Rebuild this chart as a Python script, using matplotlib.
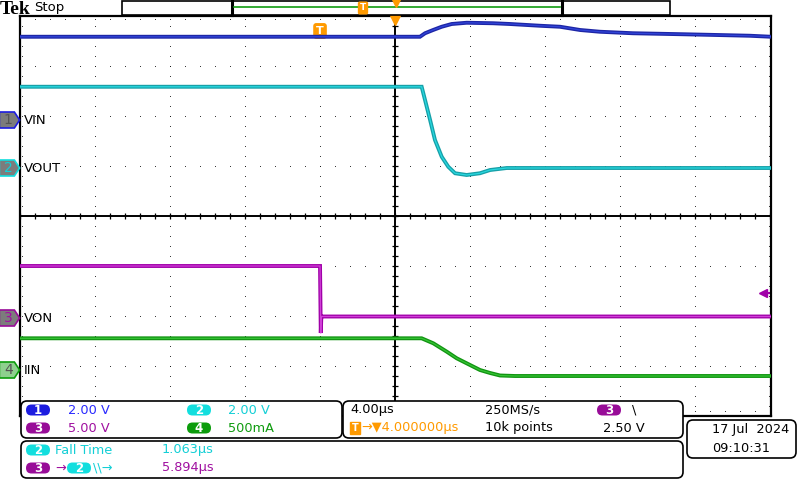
"""
Tek scope capture redraw: VIN / VOUT / VON / IIN turn-off transient.
4 us/div, trigger on ch3 falling edge, horizontal position 4 us.
"""
import numpy as np
import matplotlib
matplotlib.use("Agg")
import matplotlib.pyplot as plt
from matplotlib.patches import FancyBboxPatch, Polygon, Rectangle

# ---- waveform samples (time in us, trigger at t = 0) ----
VIN_T = [-16, 5.33, 5.6, 6.03, 6.49, 7.02, 7.82, 9.23, 10.13, 11.73, 12.8, 13.87,
         14.93, 16.69, 19.36, 21.17, 22.93, 24.05]
VIN_V = [3.33, 3.33, 3.47, 3.60, 3.73, 3.84, 3.89, 3.87, 3.84, 3.77, 3.73, 3.60,
         3.53, 3.47, 3.43, 3.40, 3.37, 3.33]

VOUT_T = [-16, 5.42, 5.6, 5.87, 6.13, 6.49, 6.84, 7.2, 7.82, 8.53, 9.07, 9.96, 24.05]
VOUT_V = [3.25, 3.25, 2.72, 1.92, 1.12, 0.45, 0.05, -0.21, -0.28, -0.21, -0.08, 0.0, 0.0]

VON_T = [-16, 0.0, 0.04, 0.07, 0.12, 24.05]
VON_V = [5.2, 5.2, -1.5, 0.15, 0.15, 0.15]

IIN_T = [-16, 5.42, 6.04, 6.76, 7.29, 8.0, 8.53, 9.07, 9.6, 10.4, 24.05]
IIN_A = [0.317, 0.317, 0.267, 0.183, 0.117, 0.05, 0.0, -0.03, -0.055, -0.06, -0.06]

# channel settings: name, volts(or amps)/div, ground position (div)
CH_NAMES = ["VIN", "VOUT", "VON", "IIN"]
CH_SCALE = [2.0, 2.0, 5.0, 0.5]
CH_OFFSET = [1.92, 0.96, -2.04, -3.08]
TRIG_LEVEL = 2.50  # V on ch3

# readouts
SCALE_TXT = ["2.00 V", "2.00 V", "5.00 V", "500mA"]
TIMEBASE = "4.00µs"
SAMPLE_RATE = "250MS/s"
RECORD = "10k points"
HPOS = "→▼4.000000µs"
TRIG_TXT = "2.50 V"
FALL_TIME = "1.063µs"
DELAY = "5.894µs"
DATE, TIME = "17 Jul  2024", "09:10:31"

TRACE = [("#1e26a6", "#3044d8"), ("#17a0a8", "#28d8e0"),
         ("#a000a8", "#d040d8"), ("#129412", "#34c434")]
BADGE = ["#1c1ce0", "#12dede", "#980c98", "#0c9c0c"]
TXT = ["#2a2aff", "#14cfd6", "#a010a0", "#109c10"]
ORANGE = "#ff9a00"

fig = plt.figure(figsize=(8, 4.8), dpi=100, facecolor="white")
ax = fig.add_axes([20 / 800, 64 / 480, 751 / 800, 400 / 480])
ax.set_xlim(-16, 24.05)
ax.set_ylim(-4, 4)
ax.set_xticks([]); ax.set_yticks([])
for s in ax.spines.values():
    s.set_linewidth(1.6); s.set_color("black")

# graticule dots
dot = dict(ls="none", marker="s", ms=0.55, mew=0, color="#111111")
xs = np.arange(-16, 24.05, 0.8)
ys = np.arange(-4, 4.01, 0.2)
for gx in range(-12, 24, 4):
    if gx == 4:
        continue
    ax.plot(np.full_like(ys, gx), ys, **dot)
for gy in [-3, -2, -1, 1, 2, 3]:
    ax.plot(xs, np.full_like(xs, gy), **dot)
ax.plot(np.full_like(ys, -15.89), ys, **dot)
ax.plot(np.full_like(ys, 23.94), ys, **dot)
ax.plot(xs, np.full_like(xs, 3.95), **dot)
ax.plot(xs, np.full_like(xs, -3.9), **dot)
ax.axvline(4, color="k", lw=1.4)
ax.axhline(0, color="k", lw=1.4)
ax.plot(np.full_like(ys, 4), ys, ls="none", marker="_", ms=4.5, mew=0.9, color="k")
ax.plot(xs, np.zeros_like(xs), ls="none", marker="|", ms=4.5, mew=0.9, color="k")

# traces
series = [(VIN_T, VIN_V), (VOUT_T, VOUT_V), (VON_T, VON_V), (IIN_T, IIN_A)]
for i, (t, v) in enumerate(series):
    y = np.asarray(v) / CH_SCALE[i] + CH_OFFSET[i]
    ax.plot(t, y, color=TRACE[i][0], lw=2.8, solid_joinstyle="miter", zorder=4)
    ax.plot(t, y, color=TRACE[i][1], lw=0.9, zorder=5)

# channel ground markers + labels
for i, name in enumerate(CH_NAMES):
    off = CH_OFFSET[i]
    fill = "#8ed08e" if i == 3 else "#7c7c7c"
    pts = [(-17.1, off - 0.16), (-16.3, off - 0.16), (-16.02, off),
           (-16.3, off + 0.16), (-17.1, off + 0.16)]
    ax.add_patch(Polygon(pts, closed=True, fc=fill, ec=BADGE[i], lw=1.2,
                         clip_on=False, zorder=6))
    ax.text(-16.62, off, str(i + 1), ha="center", va="center", fontsize=10,
            color="#555555" if i in (0, 3) else TXT[i], clip_on=False, zorder=7)
    ax.text(-15.8, off, name, ha="left", va="center", fontsize=9.5, color="black")

# trigger position / level markers
ax.text(0, 3.7, "T", ha="center", va="center", fontsize=8, fontweight="bold",
        color="white", bbox=dict(boxstyle="round,pad=0.2", fc=ORANGE, ec=ORANGE))
ax.plot([4], [3.93], marker="v", ms=7, color=ORANGE, clip_on=False, zorder=6)
lvl = TRIG_LEVEL / CH_SCALE[2] + CH_OFFSET[2]
ax.plot([23.6, 24.0], [lvl, lvl], color=TRACE[2][0], lw=1.5)
ax.plot([23.6], [lvl], marker="<", ms=6, color=TRACE[2][0])

# ---- overlay in pixel coordinates for the readout panels ----
ov = fig.add_axes([0, 0, 1, 1])
ov.set_xlim(0, 800); ov.set_ylim(480, 0); ov.axis("off")


def box(x0, y0, x1, y1):
    ov.add_patch(FancyBboxPatch((x0, y0), x1 - x0, y1 - y0,
                                boxstyle="round,pad=0,rounding_size=6",
                                fc="white", ec="black", lw=1.2))


def badge(xc, yc, n, color):
    ov.add_patch(FancyBboxPatch((xc - 12, yc - 5.5), 24, 11,
                                boxstyle="round,pad=0,rounding_size=5.5",
                                fc=color, ec="none"))
    ov.text(xc, yc, str(n), ha="center", va="center", fontsize=8.5,
            color="white", fontweight="bold")


def label(x, y, s, color="black", size=9.3):
    ov.text(x, y, s, ha="left", va="center", fontsize=size, color=color)


# header
ov.text(0, 13.8, "Tek", ha="left", va="baseline", fontsize=14, fontweight="bold",
        family="Liberation Serif")
label(34, 8, "Stop", size=9.5)
ov.add_patch(Rectangle((122, 1), 548, 14, fc="white", ec="black", lw=1.2))
ov.plot([232, 232], [1, 15], color="black", lw=2.2)
ov.plot([562, 562], [1, 15], color="black", lw=2.2)
ov.plot([234, 560], [7, 7], color="#109c10", lw=1.2)
ov.text(363, 8, "T", ha="center", va="center", fontsize=6.5, fontweight="bold",
        color="white", bbox=dict(boxstyle="round,pad=0.15", fc=ORANGE, ec=ORANGE))
ov.plot([396], [2.5], marker="v", ms=6, color=ORANGE)

# channel scale box
box(21, 401, 342, 438)
badge(38, 410, 1, BADGE[0]); label(68, 410, SCALE_TXT[0], TXT[0])
badge(199, 410, 2, BADGE[1]); label(228, 410, SCALE_TXT[1], TXT[1])
badge(38, 428, 3, BADGE[2]); label(68, 428, SCALE_TXT[2], TXT[2])
badge(199, 428, 4, BADGE[3]); label(228, 428, SCALE_TXT[3], TXT[3])

# timebase / trigger box
box(343, 401, 683, 438)
label(350, 410, TIMEBASE)
label(485, 410, SAMPLE_RATE)
badge(609, 410, 3, BADGE[2])
label(632, 410, "\\")
ov.text(355, 428, "T", ha="center", va="center", fontsize=7, fontweight="bold",
        color="white", bbox=dict(boxstyle="square,pad=0.15", fc=ORANGE, ec=ORANGE))
label(361, 428, HPOS, ORANGE)
label(485, 428, RECORD)
label(603, 428, TRIG_TXT)

# measurement box
box(21, 441, 683, 478)
badge(38, 450, 2, BADGE[1]); label(55, 450, "Fall Time", TXT[1])
label(162, 450, FALL_TIME, TXT[1])
badge(38, 468, 3, BADGE[2]); label(55, 468, "→", TXT[2])
badge(79, 468, 2, BADGE[1]); label(93, 468, "\\\\→", TXT[1])
label(162, 468, DELAY, TXT[2])

# date box
box(687, 420, 796, 458)
label(712, 429, DATE)
label(712, 448, TIME)

fig.savefig("out.png", dpi=100, facecolor="white")
